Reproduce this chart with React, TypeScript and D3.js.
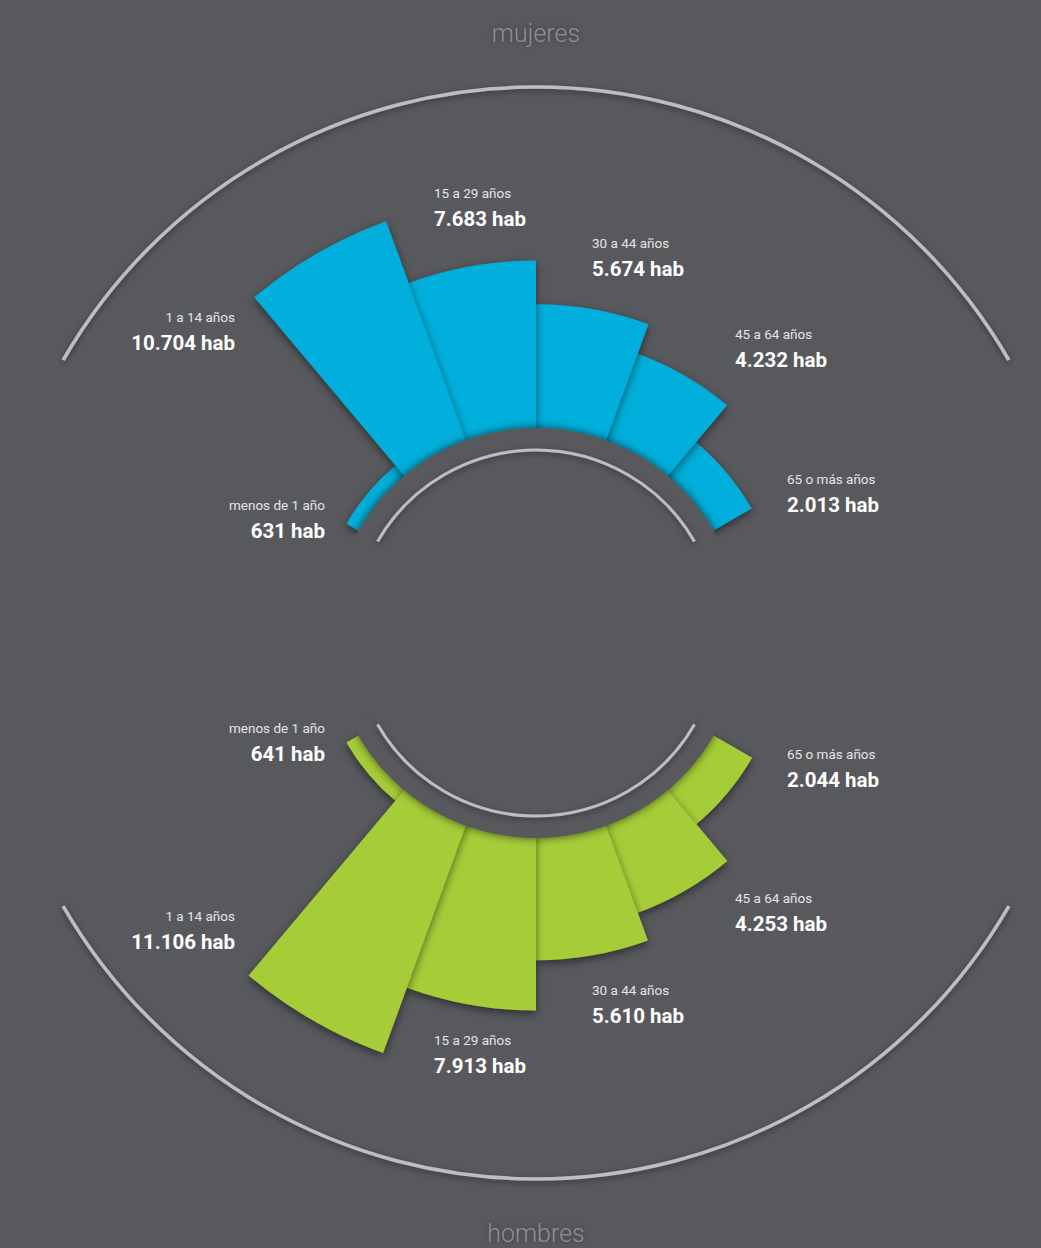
import * as d3 from "d3"

const categories = [
  "menos de 1 año",
  "1 a 14 años",
  "15 a 29 años",
  "30 a 44 años",
  "45 a 64 años",
  "65 o más años",
]
const mujeres = [631, 10704, 7683, 5674, 4232, 2013]
const hombres = [641, 11106, 7913, 5610, 4253, 2044]
const titles = ["mujeres", "hombres"]

// where each label sits (x anchor, baseline of the small line in each half)
const labelLayout = [
  { x: 325, anchor: "end", top: 510, bottom: 733 },
  { x: 235, anchor: "end", top: 322, bottom: 921 },
  { x: 434, anchor: "start", top: 198, bottom: 1045 },
  { x: 592, anchor: "start", top: 248, bottom: 995 },
  { x: 735, anchor: "start", top: 339, bottom: 903 },
  { x: 787, anchor: "start", top: 484, bottom: 759 },
]

const width = 1041
const height = 1248
const cx = 536
const cy = 633
const bg = "#58595d"
const blue = "#00afdb"
const green = "#a6cd39"
const arcGrey = "#bdbec1"

const deg = Math.PI / 180
const fmt = d3.formatLocale({
  decimal: ",",
  thousands: ".",
  grouping: [3],
  currency: ["", "€"],
}).format(",d")

const radius = d3
  .scaleLinear()
  .domain([0, d3.max(hombres.concat(mujeres))])
  .range([205, 447])

const Half = ({ values, colour, flip, id }) => {
  const angle = d3
    .scaleBand()
    .domain(categories)
    .range(flip ? [240 * deg, 120 * deg] : [-60 * deg, 60 * deg])
  const a0 = flip ? 120 * deg : -60 * deg
  const a1 = flip ? 240 * deg : 60 * deg

  const bars = categories
    .map((c, i) => ({ c, v: values[i] }))
    .sort((a, b) => a.v - b.v)

  const barArc = d3.arc()
  const line = d3.arc()

  return (
    <g transform={`translate(${cx},${cy})`}>
      {bars.map((d) => (
        <path
          key={d.c}
          fill={colour}
          filter="url(#barShadow)"
          d={barArc({
            innerRadius: 195,
            outerRadius: radius(d.v),
            startAngle: angle(d.c),
            endAngle: angle(d.c) + angle.bandwidth(),
          })}
        />
      ))}
      <clipPath id={`clip-${id}`}>
        <path
          d={line({ innerRadius: 204, outerRadius: 480, startAngle: a0, endAngle: a1 })}
        />
      </clipPath>
      <g clipPath={`url(#clip-${id})`}>
        <circle r={205} fill={bg} filter="url(#discShadow)" />
      </g>
      <path
        fill={bg}
        d={line({
          innerRadius: 185,
          outerRadius: 205,
          startAngle: a0 - 5 * deg,
          endAngle: a1 + 5 * deg,
        })}
      />
      <path
        d={line({ innerRadius: 183, outerRadius: 183, startAngle: a0, endAngle: a1 })}
        fill="none"
        stroke={arcGrey}
        strokeWidth={3}
        strokeLinecap="round"
        filter="url(#lineShadow)"
      />
      <path
        d={line({ innerRadius: 546, outerRadius: 546, startAngle: a0, endAngle: a1 })}
        fill="none"
        stroke={arcGrey}
        strokeWidth={3.5}
        strokeLinecap="round"
        filter="url(#lineShadow)"
      />
    </g>
  )
}

const Labels = ({ values, side }) => (
  <g fontFamily="Roboto, 'Open Sans', sans-serif">
    {categories.map((c, i) => {
      const l = labelLayout[i]
      const y = l[side]
      return (
        <g key={c} textAnchor={l.anchor}>
          <text x={l.x} y={y} fontSize={13.5} fill="#e4e4e4">
            {c}
          </text>
          <text x={l.x} y={y + 28} fontSize={20.5} fontWeight={700} fill="#ffffff">
            {fmt(values[i])} hab
          </text>
        </g>
      )
    })}
  </g>
)

export default function App() {
  return (
    <div style={{ position: "absolute", left: 0, top: 0 }}>
      <svg width={width} height={height} style={{ display: "block" }}>
        <defs>
          <filter id="barShadow" x="-30%" y="-30%" width="160%" height="160%">
            <feDropShadow dx={0} dy={3} stdDeviation={4} floodColor="#000" floodOpacity={0.5} />
          </filter>
          <filter id="discShadow" x="-20%" y="-20%" width="140%" height="140%">
            <feDropShadow dx={0} dy={0} stdDeviation={5} floodColor="#000" floodOpacity={0.6} />
          </filter>
          <filter id="lineShadow" x="-20%" y="-40%" width="140%" height="180%">
            <feDropShadow dx={0} dy={2} stdDeviation={3} floodColor="#000" floodOpacity={0.45} />
          </filter>
          <filter id="titleShadow" x="-20%" y="-40%" width="140%" height="180%">
            <feDropShadow dx={0} dy={0} stdDeviation={3} floodColor="#000" floodOpacity={0.35} />
          </filter>
        </defs>
        <rect width={width} height={height} fill={bg} />

        <Half values={mujeres} colour={blue} flip={false} id="m" />
        <Half values={hombres} colour={green} flip={true} id="h" />

        <Labels values={mujeres} side="top" />
        <Labels values={hombres} side="bottom" />

        <g
          fontFamily="Roboto, 'Open Sans', sans-serif"
          fontWeight={300}
          fontSize={25}
          fill="#8c8d90"
          textAnchor="middle"
          filter="url(#titleShadow)"
        >
          <text x={cx} y={42}>
            {titles[0]}
          </text>
          <text x={cx} y={1242}>
            {titles[1]}
          </text>
        </g>
      </svg>
    </div>
  )
}
